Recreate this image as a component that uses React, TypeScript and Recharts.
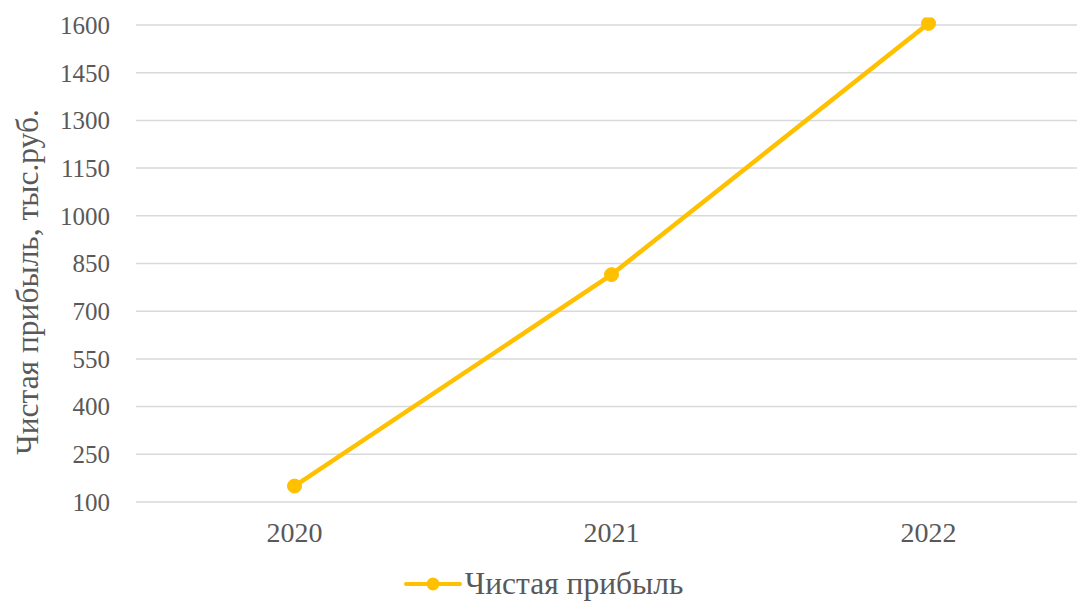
import { LineChart, Line, XAxis, YAxis, CartesianGrid, Legend } from 'recharts';

const years = ['2020', '2021', '2022'];
const profit = [150, 815, 1605];
const yTicks = [100, 250, 400, 550, 700, 850, 1000, 1150, 1300, 1450, 1600];

const data = years.map((year, i) => ({ year, profit: profit[i] }));

const GOLD = '#FFC000';
const TEXT = '#595959';
const FONT = '"Liberation Serif", "Times New Roman", serif';

function LegendContent() {
  return (
    <div
      style={{
        display: 'flex',
        alignItems: 'center',
        justifyContent: 'center',
        height: 54,
        paddingTop: 20,
        boxSizing: 'border-box',
        fontFamily: FONT,
        fontSize: 31.5,
        color: TEXT,
      }}
    >
      <svg width={58} height={16} style={{ marginRight: 3 }}>
        <line x1={2} y1={8} x2={56} y2={8} stroke={GOLD} strokeWidth={4} strokeLinecap="round" />
        <circle cx={29} cy={8} r={6.5} fill={GOLD} />
      </svg>
      <span>Чистая прибыль</span>
    </div>
  );
}

export default function App() {
  return (
    <div style={{ position: 'absolute', left: 0, top: 0, width: 1077, height: 601, overflow: 'hidden', background: '#fff' }}>
      <LineChart
        width={1087}
        height={601}
        data={data}
        margin={{ top: 25, right: 0, left: 0, bottom: 0 }}
        style={{ fontFamily: FONT }}
      >
        <CartesianGrid vertical={false} stroke="#D9D9D9" strokeWidth={1.5} />
        <XAxis
          dataKey="year"
          scale="band"
          axisLine={false}
          tickLine={false}
          height={45}
          tick={{ fill: TEXT, fontSize: 28, fontFamily: FONT }}
          dy={12}
        />
        <YAxis
          width={136}
          domain={[100, 1600]}
          ticks={yTicks}
          allowDataOverflow
          interval={0}
          axisLine={false}
          tickLine={false}
          tickMargin={20}
          tick={{ fill: TEXT, fontSize: 25, fontFamily: FONT }}
          label={{
            content: () => (
              <text
                x={27}
                y={282}
                transform="rotate(-90 27 282)"
                textAnchor="middle"
                dominantBaseline="central"
                fill={TEXT}
                fontSize={31.5}
                fontFamily={FONT}
              >
                Чистая прибыль, тыс.руб.
              </text>
            ),
          }}
        />
        <Legend verticalAlign="bottom" content={<LegendContent />} />
        <Line
          type="linear"
          dataKey="profit"
          name="Чистая прибыль"
          stroke={GOLD}
          strokeWidth={4.5}
          dot={{ r: 7, fill: GOLD, stroke: GOLD, strokeWidth: 1, clipDot: false }}
          activeDot={false}
          isAnimationActive={false}
        />
      </LineChart>
    </div>
  );
}
